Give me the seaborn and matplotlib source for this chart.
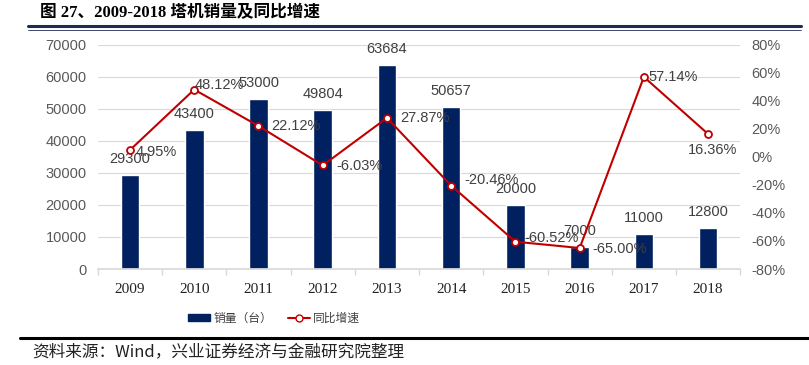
import numpy as np
import pandas as pd
import matplotlib
matplotlib.use("Agg")
import matplotlib.pyplot as plt
import seaborn as sns
from matplotlib.lines import Line2D
from matplotlib.patches import Patch

# data
years = ["2009", "2010", "2011", "2012", "2013", "2014", "2015", "2016", "2017", "2018"]
sales = [29300, 43400, 53000, 49804, 63684, 50657, 20000, 7000, 11000, 12800]
growth = [4.95, 48.12, 22.12, -6.03, 27.87, -20.46, -60.52, -65.00, 57.14, 16.36]

navy = "#002060"
red = "#C00000"
gray = "#595959"

sns.set_theme(style="white")
plt.rcParams["font.family"] = ["Liberation Sans", "Noto Sans CJK SC", "DejaVu Sans"]
cjk = ["Noto Sans CJK SC", "DejaVu Sans"]

df = pd.DataFrame({"year": years, "sales": sales, "growth": growth})

fig = plt.figure(figsize=(8.09, 3.65), dpi=100)
ax = fig.add_axes([0.121, 0.263, 0.794, 0.614])

sns.barplot(data=df, x="year", y="sales", color=navy, width=0.29,
            saturation=1, ax=ax)
ax.set_ylim(0, 70000)
ax.set_yticks(np.arange(0, 70001, 10000))
ax.set_xlim(-0.5, 9.5)
ax.grid(axis="y", color="#D9D9D9", linewidth=0.8)
ax.set_axisbelow(True)
for s in ["top", "right", "left"]:
    ax.spines[s].set_visible(False)
ax.spines["bottom"].set_color("#D9D9D9")
ax.set_xlabel("")
ax.set_ylabel("")
ax.tick_params(axis="y", length=0, labelsize=10.5, colors=gray, pad=8)
ax.tick_params(axis="x", length=0, pad=10)
for lab in ax.get_xticklabels():
    lab.set_fontfamily("Liberation Serif")
    lab.set_fontsize(11)
    lab.set_color("#222222")
# boundary ticks between categories
ax.set_xticks(np.arange(-0.5, 10, 1), minor=True)
ax.tick_params(axis="x", which="minor", length=4, color="#D9D9D9", bottom=True)

for i, v in enumerate(sales):
    ax.annotate(str(v), (i, v), xytext=(0, 9), textcoords="offset pixels",
                ha="center", va="bottom", fontsize=10.5, color="#404040")

ax2 = ax.twinx()
sns.lineplot(x=np.arange(len(years)), y=growth, color=red, linewidth=1.5,
             marker="o", markersize=5, markerfacecolor="white",
             markeredgecolor=red, markeredgewidth=1.3, ax=ax2)
ax2.set_ylim(-80, 80)
ax2.set_yticks(np.arange(-80, 81, 20))
ax2.set_yticklabels([f"{t}%" for t in range(-80, 81, 20)])
ax2.tick_params(axis="y", length=0, labelsize=10.5, colors=gray, pad=8)
for s in ax2.spines.values():
    s.set_visible(False)
ax2.grid(False)

# label offsets in pixels (right of the point, as in the reference)
offsets = [(6, -2), (0, 5), (13, 0), (14, -1), (13, 0), (13, 6),
           (9, 4), (13, -1), (5, 0), (-20, -16)]
for i, v in enumerate(growth):
    ax2.annotate(f"{v:.2f}%", (i, v), xytext=offsets[i], textcoords="offset pixels",
                 ha="left", va="center", fontsize=10.5, color="#404040")

# title and rules
fig.text(0.049, 0.965, "图 27、2009-2018 塔机销量及同比增速", fontsize=12,
         fontweight="bold", family=["Liberation Serif", "Noto Sans CJK SC"],
         ha="left", va="center", color="black")
fig.add_artist(Line2D([0.035, 0.99], [0.928, 0.928], color="#1F2A55", linewidth=2.2))
fig.add_artist(Line2D([0.035, 0.99], [0.918, 0.918], color="#1F2A55", linewidth=0.6))
fig.add_artist(Line2D([0.025, 1.0], [0.074, 0.074], color="black", linewidth=2.2))

handles = [Patch(facecolor=navy, edgecolor=navy),
           Line2D([0], [0], color=red, linewidth=1.5, marker="o", markersize=5,
                  markerfacecolor="white", markeredgecolor=red)]
leg = fig.legend(handles, ["销量（台）", "同比增速"], loc="center",
                 bbox_to_anchor=(0.339, 0.128), ncol=2, frameon=False,
                 prop={"family": cjk, "size": 8.5}, handlelength=1.8,
                 handleheight=0.6, columnspacing=1.4, handletextpad=0.3)
for t in leg.get_texts():
    t.set_color("#404040")

fig.text(0.04, 0.035, "资料来源：Wind，兴业证券经济与金融研究院整理", fontsize=12,
         family=cjk, ha="left", va="center", color="#222222")

fig.savefig("out.png", dpi=100)
